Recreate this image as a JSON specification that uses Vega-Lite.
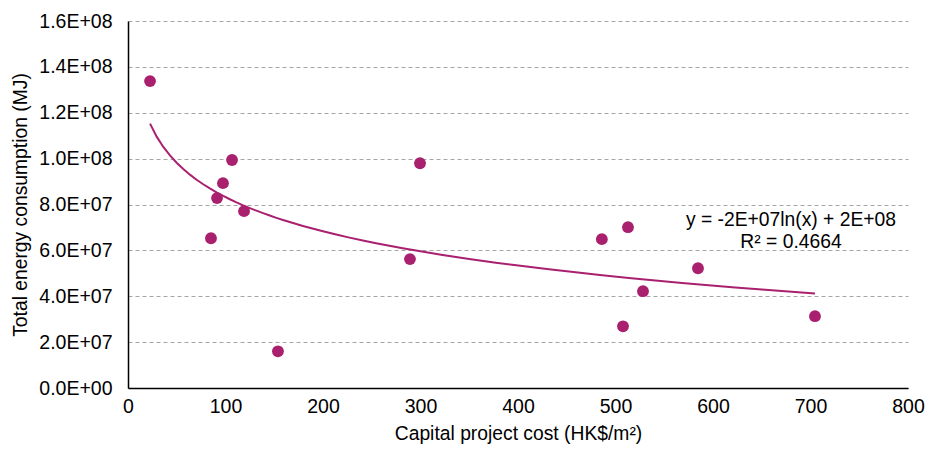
{
  "$schema": "https://vega.github.io/schema/vega-lite/v6.json",
  "autosize": {"type": "none"},
  "width": 780,
  "height": 367,
  "padding": {"left": 128, "top": 21, "right": 17, "bottom": 62},
  "background": "white",
  "config": {
    "font": "Liberation Sans",
    "view": {"stroke": null},
    "axis": {
      "labelFont": "Liberation Sans",
      "titleFont": "Liberation Sans",
      "labelFontSize": 19.5,
      "titleFontSize": 19.3,
      "labelColor": "#000000",
      "titleColor": "#000000",
      "titleFontWeight": "normal",
      "ticks": false,
      "labelFlush": false,
      "labelOverlap": false,
      "domainColor": "#000000",
      "domainWidth": 1.5
    }
  },
  "datasets": {
    "pts": [
      {"cost": 22.6, "energy": 133800000},
      {"cost": 106.7, "energy": 99400000},
      {"cost": 97.4, "energy": 89300000},
      {"cost": 91.3, "energy": 82800000},
      {"cost": 119, "energy": 77100000},
      {"cost": 85.1, "energy": 65300000},
      {"cost": 153.8, "energy": 16000000},
      {"cost": 299.5, "energy": 98000000},
      {"cost": 289.2, "energy": 56200000},
      {"cost": 486, "energy": 64900000},
      {"cost": 512.8, "energy": 70100000},
      {"cost": 507.7, "energy": 26900000},
      {"cost": 528.2, "energy": 42200000},
      {"cost": 584.6, "energy": 52200000},
      {"cost": 704.6, "energy": 31300000}
    ],
    "notes": [
      {"cost": 680, "energy": 73200000, "label": "y = -2E+07ln(x) + 2E+08"},
      {"cost": 680, "energy": 63700000, "label": "R² = 0.4664"}
    ]
  },
  "layer": [
    {
      "data": {"name": "pts"},
      "mark": {"type": "point", "filled": true, "size": 140, "opacity": 1, "color": "#A9206F"},
      "encoding": {
        "x": {
          "field": "cost", "type": "quantitative",
          "scale": {"domain": [0, 800], "nice": false, "zero": false},
          "axis": {"title": "Capital project cost (HK$/m²)", "values": [0,100,200,300,400,500,600,700,800], "grid": false, "labelPadding": 9, "titlePadding": 9}
        },
        "y": {
          "field": "energy", "type": "quantitative",
          "scale": {"domain": [0, 160000000], "nice": false},
          "axis": {
            "title": "Total energy consumption (MJ)",
            "values": [0, 20000000, 40000000, 60000000, 80000000, 100000000, 120000000, 140000000, 160000000],
            "labelExpr": "datum.value == 0 ? '0.0E+00' : format(datum.value / pow(10, floor(log(datum.value)/LN10)), '.1f') + 'E+' + format(floor(log(datum.value)/LN10), '02d')",
            "grid": true,
            "gridColor": "#A6A6A6",
            "gridDash": [4, 3],
            "gridWidth": 1,
            "labelPadding": 16,
            "titlePadding": 8
          }
        }
      }
    },
    {
      "data": {"name": "pts"},
      "transform": [{"regression": "energy", "on": "cost", "method": "log"}],
      "mark": {"type": "line", "color": "#A9206F", "strokeWidth": 2},
      "encoding": {
        "x": {"field": "cost", "type": "quantitative"},
        "y": {"field": "energy", "type": "quantitative"}
      }
    },
    {
      "data": {"name": "notes"},
      "mark": {"type": "text", "font": "Liberation Sans", "fontSize": 19.3, "color": "#000000", "align": "center", "baseline": "middle"},
      "encoding": {
        "x": {"field": "cost", "type": "quantitative"},
        "y": {"field": "energy", "type": "quantitative"},
        "text": {"field": "label"}
      }
    }
  ]
}
